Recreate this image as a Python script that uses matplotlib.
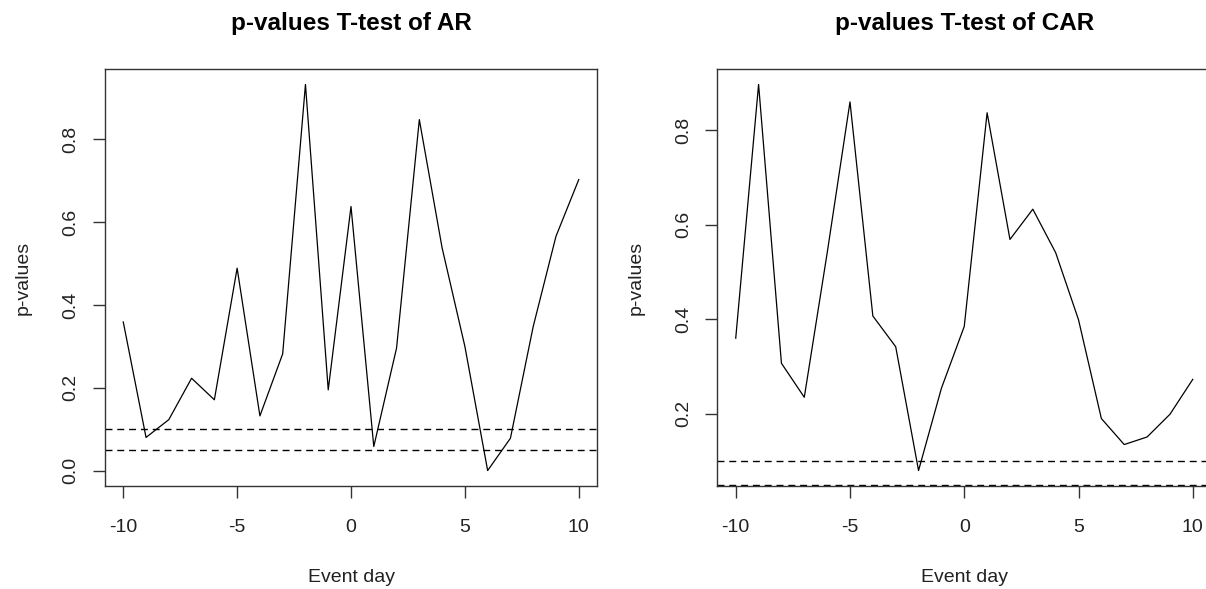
import matplotlib
matplotlib.use("Agg")
import matplotlib.pyplot as plt

plt.rcParams['font.family'] = ['Liberation Sans', 'DejaVu Sans']

days = list(range(-10, 11))

p_ar = [0.359, 0.080, 0.123, 0.223, 0.171, 0.489, 0.132, 0.282, 0.933, 0.195, 0.638,
        0.058, 0.296, 0.848, 0.538, 0.300, 0.000, 0.078, 0.348, 0.566, 0.703]

p_car = [0.360, 0.897, 0.307, 0.235, 0.540, 0.860, 0.407, 0.342, 0.080, 0.254, 0.385,
         0.837, 0.569, 0.633, 0.541, 0.399, 0.190, 0.135, 0.151, 0.199, 0.273]

levels = [0.1, 0.05]
titles = ["p-values T-test of AR", "p-values T-test of CAR"]
series = [p_ar, p_car]

fig = plt.figure(figsize=(12.06, 5.89), dpi=100)
boxes = [[0.0871, 0.1749, 0.4079, 0.7080],
         [0.5949, 0.1749, 0.4093, 0.7080]]

for box, vals, title in zip(boxes, series, titles):
    ax = fig.add_axes(box)
    ax.plot(days, vals, color='black', lw=0.9)
    ax.margins(x=0.04, y=0.04)
    for lv in levels:
        ax.axhline(lv, color='black', lw=1.0, ls=(0, (5, 3.5)))
    ax.set_xticks([-10, -5, 0, 5, 10])
    ax.set_xticklabels(['-10', '-5', '0', '5', '10'])
    yt = [t for t in [0.0, 0.2, 0.4, 0.6, 0.8] if t >= min(vals) - 0.01]
    ax.set_yticks(yt)
    ax.set_yticklabels(['%.1f' % t for t in yt], rotation=90, va='center')
    ax.tick_params(axis='both', length=8.5, width=1, color='#333333',
                   labelsize=14, labelcolor='#222222')
    ax.tick_params(axis='x', pad=15)
    ax.tick_params(axis='y', pad=10)
    for sp in ax.spines.values():
        sp.set_color('#333333')
        sp.set_linewidth(1)
    ax.set_xlabel('Event day', fontsize=14, color='#222222', labelpad=24)
    ax.set_ylabel('p-values', fontsize=14, color='#222222', labelpad=22)
    ax.set_title(title, fontsize=17.5, fontweight='bold', pad=28)

fig.savefig('out.png', dpi=100, facecolor='white')
